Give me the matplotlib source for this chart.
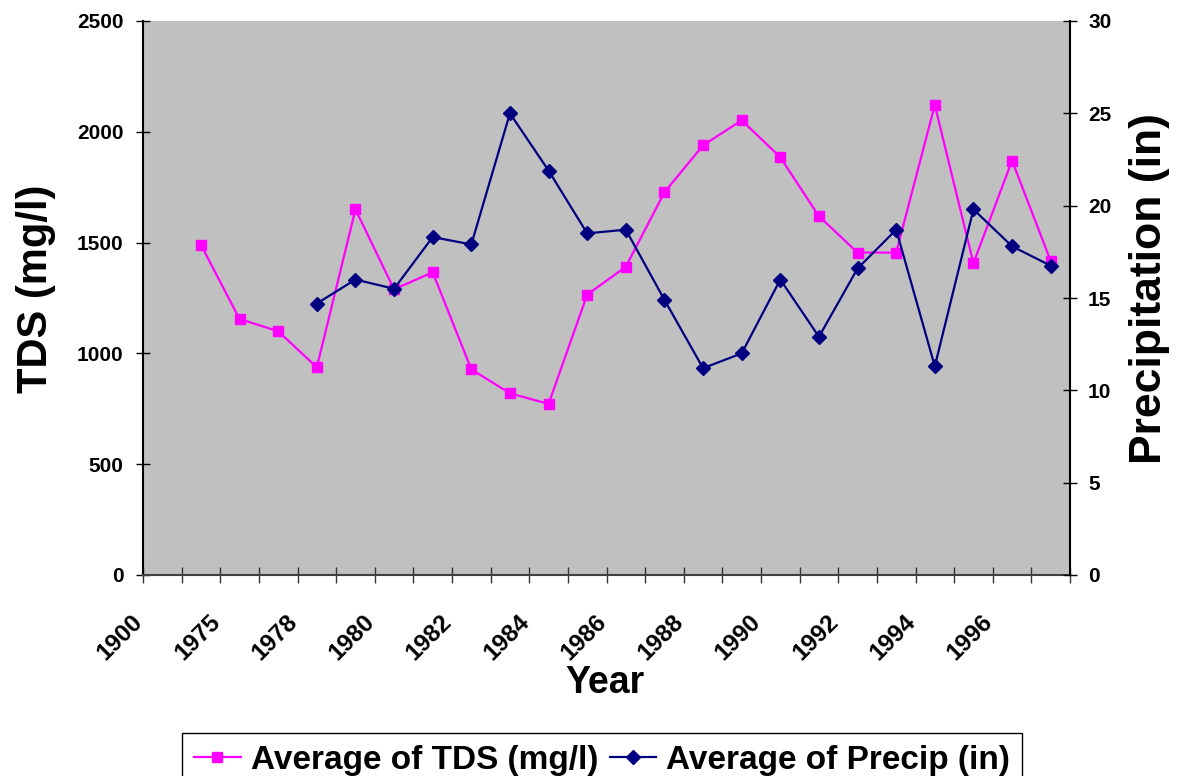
import numpy as np
import matplotlib
matplotlib.use('Agg')
import matplotlib.pyplot as plt
import matplotlib.transforms as mtrans

plt.rcParams['font.family'] = ['Liberation Sans', 'DejaVu Sans']
plt.rcParams['font.weight'] = 'bold'

# one category per year, 1900 is an empty placeholder row
years = [1900, 1974, 1975, 1977, 1978, 1979, 1980, 1981, 1982, 1983, 1984, 1985,
         1986, 1987, 1988, 1989, 1990, 1991, 1992, 1993, 1994, 1995, 1996, 1997]
tds = [np.nan, 1490, 1155, 1100, 937, 1650, 1289, 1366, 928, 820, 772, 1265,
       1391, 1727, 1939, 2052, 1885, 1619, 1455, 1455, 2121, 1407, 1870, 1417]
precip = [np.nan, np.nan, np.nan, np.nan, 14.7, 16.0, 15.5, 18.3, 17.9, 25.0, 21.9, 18.5,
          18.7, 14.9, 11.2, 12.0, 16.0, 12.9, 16.6, 18.7, 11.3, 19.8, 17.8, 16.75]

W, H = 1177, 776
fig = plt.figure(figsize=(W / 100, H / 100), dpi=100)
ax = fig.add_axes([143 / W, 1 - 575 / H, (1070 - 143) / W, (575 - 21) / H])
ax2 = ax.twinx()

x = np.arange(len(years)) + 0.5
ax.plot(x, tds, color='#FF00FF', lw=1.6, marker='s', ms=7.5, mec='#FF00FF', zorder=3)
ax2.plot(x, precip, color='#000080', lw=1.6, marker='D', ms=7, mec='#000080', zorder=3)

ax.set_facecolor('#C0C0C0')
ax.set_xlim(0, len(years))
ax.set_ylim(0, 2500)
ax2.set_ylim(0, 30)
ax.set_yticks(range(0, 2501, 500))
ax2.set_yticks(range(0, 31, 5))

ticks = list(range(len(years) + 1))
labels = [str(years[i]) if i % 2 == 0 and i < len(years) else '' for i in ticks]
ax.set_xticks(ticks)
ax.set_xticklabels(labels)

ax.tick_params(axis='x', direction='inout', length=12, width=1, pad=19, colors='#333333',
               labelcolor='black', labelsize=17.5, labelrotation=45)
ax.tick_params(axis='y', direction='inout', length=10, width=1, pad=9, labelsize=15)
ax2.tick_params(axis='y', direction='inout', length=10, width=1, pad=8, labelsize=15)

shift = mtrans.ScaledTranslation(4.5 / 100, 0, fig.dpi_scale_trans)
for lab in ax.get_xticklabels():
    lab.set_ha('right')
    lab.set_va('top')
    lab.set_transform(lab.get_transform() + shift)

for a in (ax, ax2):
    a.spines['top'].set_visible(False)
ax2.spines['bottom'].set_visible(False)
ax2.spines['left'].set_visible(False)
ax.spines['right'].set_visible(False)
ax.spines['bottom'].set_color('#404040')
ax.spines['bottom'].set_linewidth(1.5)
ax.spines['left'].set_linewidth(1.5)
ax2.spines['right'].set_linewidth(1.5)

fig.text(605 / W, 1 - 683 / H, 'Year', fontsize=27, fontweight='bold', ha='center', va='center')
fig.text(36 / W, 1 - 289 / H, 'TDS (mg/l)', fontsize=30, fontweight='bold', rotation=90,
         ha='center', va='center')
fig.text(1150 / W, 1 - 289 / H, 'Precipitation (in)', fontsize=32, fontweight='bold',
         rotation=90, ha='center', va='center')

h1 = ax.get_lines()[0]
h2 = ax2.get_lines()[0]
leg = fig.legend([h1, h2], ['Average of TDS (mg/l)', 'Average of Precip (in)'],
                 loc='center', bbox_to_anchor=(602 / W, 1 - 760 / H), ncol=2,
                 fancybox=False, edgecolor='black', framealpha=1,
                 prop={'weight': 'bold', 'size': 24}, handlelength=1.4,
                 handletextpad=0.3, columnspacing=0.35, borderpad=0.35, borderaxespad=0)
leg.get_frame().set_linewidth(1.0)

fig.savefig('out.png', dpi=100)
